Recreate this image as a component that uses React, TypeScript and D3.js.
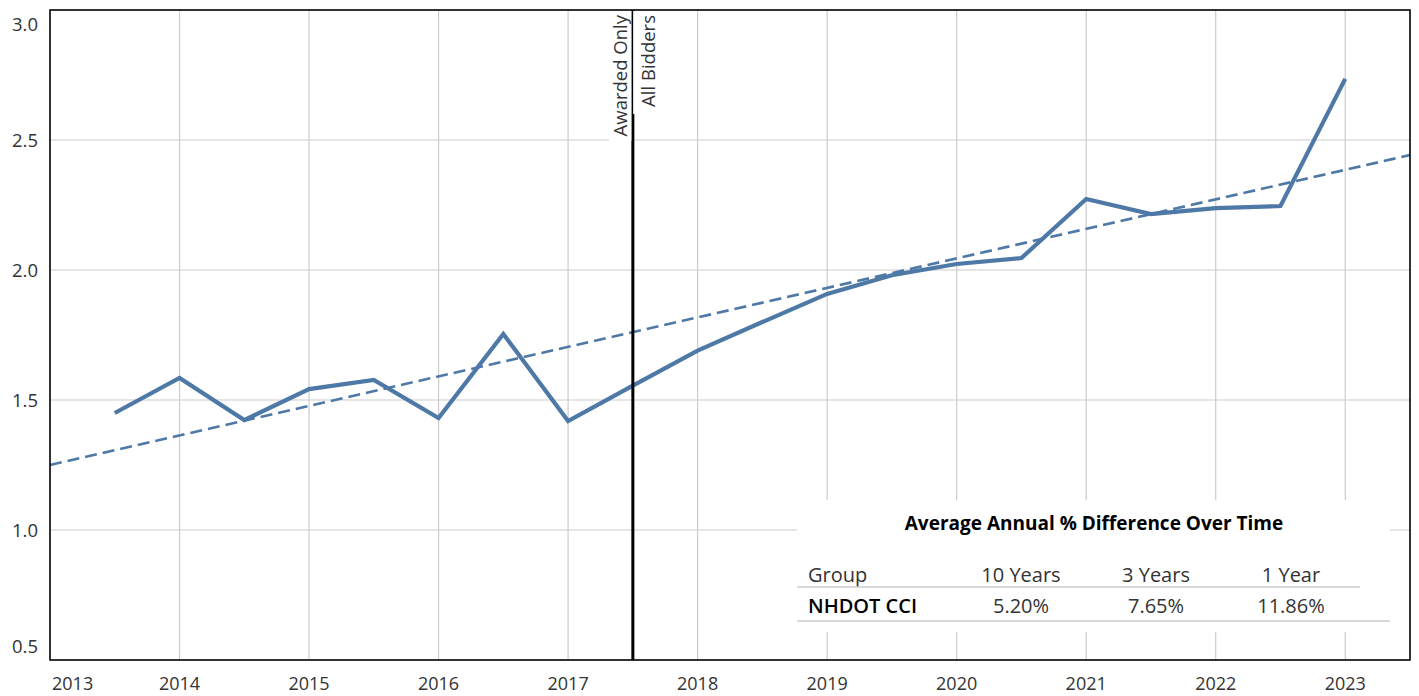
import React from "react";
import * as d3 from "d3";

const years = [2013.5, 2014, 2014.5, 2015, 2015.5, 2016, 2016.5, 2017, 2017.5, 2018, 2018.5, 2019, 2019.5, 2020, 2020.5, 2021, 2021.5, 2022, 2022.5, 2023];
const cciValues = [1.45, 1.585, 1.423, 1.542, 1.577, 1.431, 1.754, 1.419, 1.555, 1.69, 1.8, 1.908, 1.98, 2.023, 2.046, 2.273, 2.215, 2.238, 2.246, 2.735];
const trendYears = [2013, 2023.5];
const trendValues = [1.25, 2.442];
const xTicks = [2013, 2014, 2015, 2016, 2017, 2018, 2019, 2020, 2021, 2022, 2023];
const yTicks = [0.5, 1.0, 1.5, 2.0, 2.5, 3.0];
const splitYear = 2017.5;
const leftLabel = "Awarded Only";
const rightLabel = "All Bidders";
const tableTitle = "Average Annual % Difference Over Time";
const tableHeaders = ["Group", "10 Years", "3 Years", "1 Year"];
const tableRow = ["NHDOT CCI", "5.20%", "7.65%", "11.86%"];

const W = 1419, H = 696;
const L = 50, R = 1410, T = 10, B = 660;
const FONT = "'Open Sans', 'Noto Sans', sans-serif";
const BLUE = "#4e79a7";
const GRID = "#cccccc";
const TXT = "#333333";

export default function App() {
  const x = d3.scaleLinear().domain([2013, 2023.5]).range([L, R]);
  const y = d3.scaleLinear().domain([0.5, 3.0]).range([B, T]);
  const line = d3.line<number>().x((_, i) => x(years[i])).y((d) => y(d));
  const trend = d3.line<number>().x((_, i) => x(trendYears[i])).y((d) => y(d));
  const sx = x(splitYear);

  const boxL = 797, boxR = 1390, boxT = 500, boxB = 632;
  const colX = [808, 1021, 1156, 1291];

  return (
    <svg width={W} height={H} style={{ position: "absolute", left: 0, top: 0, background: "#fff" }} fontFamily={FONT}>
      <rect x={0} y={0} width={W} height={H} fill="#fff" />
      {/* grid */}
      {xTicks.filter((t) => t > 2013).map((t) => (
        <line key={"gx" + t} x1={x(t)} x2={x(t)} y1={T} y2={B} stroke={GRID} strokeWidth={1.2} />
      ))}
      {yTicks.filter((t) => t > 0.5 && t < 3).map((t) => (
        <line key={"gy" + t} x1={L} x2={R} y1={y(t)} y2={y(t)} stroke={GRID} strokeWidth={1.2} />
      ))}
      {/* table background */}
      <rect x={boxL} y={boxT} width={boxR - boxL} height={boxB - boxT} fill="#fff" />
      {/* trend */}
      <path d={trend(trendValues) || ""} fill="none" stroke={BLUE} strokeWidth={2.6} strokeDasharray="12 6" />
      {/* series */}
      <path d={line(cciValues) || ""} fill="none" stroke={BLUE} strokeWidth={4.2} strokeLinejoin="miter" />
      {/* split line and labels */}
      <line x1={sx} x2={sx} y1={T} y2={B} stroke="#000" strokeWidth={3} />
      <rect x={sx - 24} y={T + 1} width={22.5} height={130} fill="#fff" />
      <rect x={sx + 0.3} y={T + 1} width={23} height={103} fill="#fff" />
      <text transform={`translate(${sx - 6},${T + 5}) rotate(-90)`} textAnchor="end" fontSize={18.5} fill={TXT}>{leftLabel}</text>
      <text transform={`translate(${sx + 22},${T + 5}) rotate(-90)`} textAnchor="end" fontSize={18.5} fill={TXT}>{rightLabel}</text>
      {/* frame */}
      <rect x={L} y={T} width={R - L} height={B - T} fill="none" stroke="#000" strokeWidth={1.6} />
      {/* y ticks */}
      {yTicks.map((t) => {
        let yy = y(t) + 7;
        if (t === 3.0) yy = 31;
        if (t === 0.5) yy = 653;
        return (
          <text key={"ty" + t} x={38} y={yy} textAnchor="end" fontSize={18.5} fill={TXT}>{d3.format(".1f")(t)}</text>
        );
      })}
      {/* x ticks */}
      {xTicks.map((t) => (
        <text key={"tx" + t} x={t === 2013 ? L + 2 : x(t)} y={690} textAnchor={t === 2013 ? "start" : "middle"} fontSize={18} fill={TXT}>{t}</text>
      ))}
      {/* table */}
      <text x={1094} y={530} textAnchor="middle" fontSize={19} fontWeight="bold" fill="#000">{tableTitle}</text>
      {tableHeaders.map((h, i) => (
        <text key={"h" + i} x={colX[i]} y={582} textAnchor={i === 0 ? "start" : "middle"} fontSize={20} fill={TXT}>{h}</text>
      ))}
      <line x1={boxL} x2={1360} y1={587} y2={587} stroke={GRID} strokeWidth={1.5} />
      {tableRow.map((h, i) => (
        <text key={"r" + i} x={colX[i]} y={613} textAnchor={i === 0 ? "start" : "middle"} fontSize={20} fontWeight={i === 0 ? 600 : 400} fill={i === 0 ? "#000" : TXT}>{h}</text>
      ))}
      <line x1={boxL} x2={boxR} y1={621} y2={621} stroke={GRID} strokeWidth={1.5} />
    </svg>
  );
}
